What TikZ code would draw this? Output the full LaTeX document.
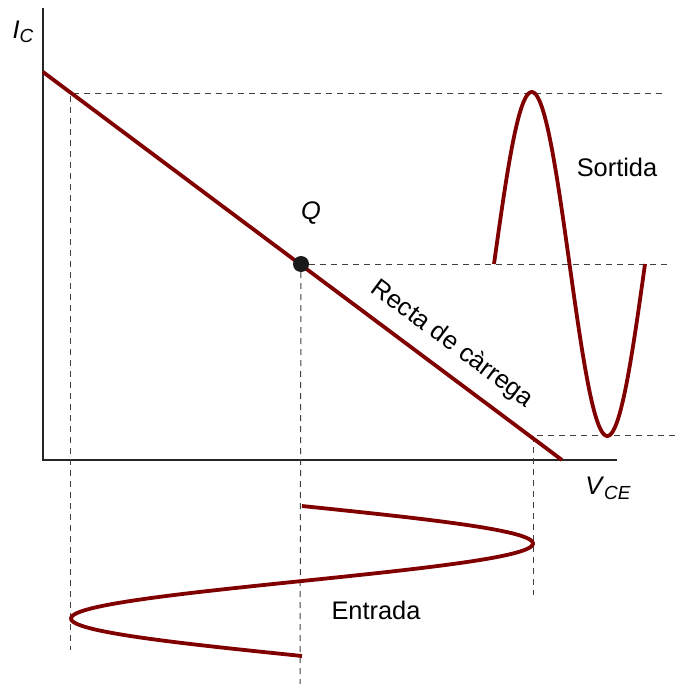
\documentclass[tikz,border=0pt]{standalone}
\usepackage{fontspec}
\setmainfont{Liberation Sans}
\usepackage{tikz}
\usetikzlibrary{calc}
\definecolor{wave}{RGB}{128,0,0}
\newcommand{\sub}[1]{\raisebox{-0.35ex}{\fontsize{19}{22}\selectfont\textit{#1}}}
\tikzset{
  guide/.style={line width=1bp, black!75, dash pattern=on 6bp off 5bp},
  signal/.style={line width=3.8bp, wave},
  axisline/.style={line width=2.5bp, black!85},
  lbl/.style={font=\fontsize{25.5}{30}\selectfont, inner sep=0pt}
}
\begin{document}
\begin{tikzpicture}
    [x=1bp, y=-1bp]
    \useasboundingbox (0,0) rectangle (675,684);
    % axes
    \coordinate (O) at (43,460);
    \coordinate (ytop) at (43,8);
    \coordinate (xend) at (617,460);
    \draw[axisline] (ytop) -- (O) -- (xend);
    \node[lbl] (IC) at (23,32) {\textit{I}\sub{C}};
    \node[lbl] (VCE) at (608,488) {\textit{V}\sub{CE}};
    % guides
    \coordinate (top) at (70,94);
    \coordinate (topr) at (662,94);
    \coordinate (topd) at (70,650);
    \coordinate (qr) at (670,264);
    \coordinate (qd) at (300,684);
    \coordinate (low) at (533,435);
    \coordinate (lowr) at (675,435);
    \coordinate (lowd) at (533,595);
    \draw[guide] (topr) -- (top) -- (topd);
    \draw[guide] (lowr) -- (low) -- (lowd);
    % load line
    \coordinate (ll1) at (43,72);
    \coordinate (ll2) at (562,460);
    \draw[signal] (ll1) -- (ll2);
    \node[lbl, rotate=-36.8] (recta) at (452,344) {Recta de càrrega};
    % Q point
    \node[circle, fill=black!90, minimum size=16bp, inner sep=0pt] (Q) at (301,264) {};
    \draw[guide] (Q) -- (qr);
    \draw[guide] (Q) -- (qd);
    \node[lbl] (Qlbl) at (311,213) {\textit{Q}};
    % output
    \draw[signal] plot[domain=0:360, samples=120] ({494+\x/360*151}, {264-172*sin(\x)});
    \node[lbl] (out) at (617,167) {Sortida};
    % input
    \draw[signal] plot[domain=0:360, samples=120] ({302+231*sin(\x)}, {506+\x/360*150});
    \node[lbl] (in) at (376,610) {Entrada};
\end{tikzpicture}
\end{document}
